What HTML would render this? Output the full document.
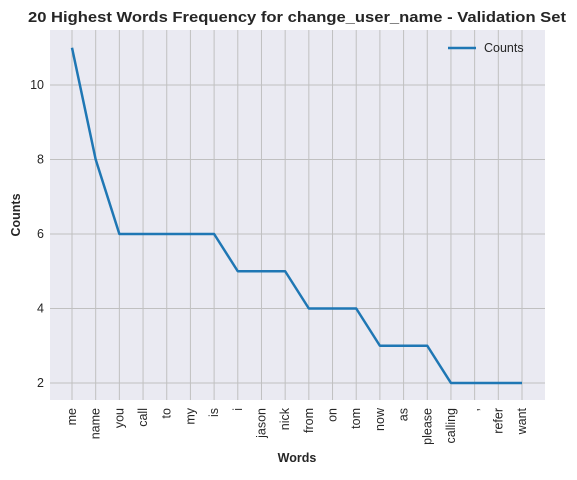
<!DOCTYPE html>
<html><head><meta charset="utf-8"><style>
body{margin:0;background:#fff;font-family:"Liberation Sans",Arial,sans-serif}
svg text{font-family:"Liberation Sans",Arial,sans-serif;fill:#262626}
</style></head><body>
<svg id="c" width="577" height="475"></svg>
<script>
const categories=["me","name","you","call","to","my","is","i","jason","nick","from","on","tom","now","as","please","calling",",","refer","want"];
const counts=[11,8,6,6,6,6,6,5,5,5,4,4,4,3,3,3,2,2,2,2];
const yTicks=[2,4,6,8,10];
const L=50,R=545,T=30,B=400;
const x=i=>72+i*(522-72)/(categories.length-1);
const y=v=>383-(v-2)*(383-85)/8;
const svg=document.getElementById('c');
const NS='http://www.w3.org/2000/svg';
function el(t,a,p){const e=document.createElementNS(NS,t);for(const k in a)e.setAttribute(k,a[k]);(p||svg).appendChild(e);return e;}
const bg=el('rect',{x:L,y:T,width:R-L,height:B-T,fill:'#eaeaf2'});


categories.forEach((c,i)=>{
 const g=el('line',{x1:x(i),x2:x(i),y1:T,y2:B,stroke:'#c0c0c0','stroke-width':1});
 
 
 const t=el('text',{x:0,y:0,'font-size':12.5,'text-anchor':'end',transform:`translate(${x(i)+4},${B+8}) rotate(-90)`});
 t.textContent=c;
 
 
});
yTicks.forEach(v=>{
 const g=el('line',{x1:L,x2:R,y1:y(v),y2:y(v),stroke:'#c0c0c0','stroke-width':1});
 
 
 const t=el('text',{x:L-6,y:y(v)+4,'font-size':12.5,'text-anchor':'end'});
 t.textContent=v;
 
 
});
const line=el('polyline',{points:counts.map((v,i)=>x(i)+','+y(v)).join(' '),fill:'none',stroke:'#1f77b4','stroke-width':2.5,'stroke-linejoin':'round'});


const title=el('text',{x:28,y:22,'font-size':15,'font-weight':'bold',textLength:538,lengthAdjust:'spacingAndGlyphs'});
title.textContent='20 Highest Words Frequency for change_user_name - Validation Set';


const xt=el('text',{x:297,y:462,'font-size':12.5,'font-weight':'bold','text-anchor':'middle'});
xt.textContent='Words';


const yt=el('text',{x:0,y:0,'font-size':12.5,'font-weight':'bold','text-anchor':'middle',transform:'translate(20,215) rotate(-90)'});
yt.textContent='Counts';


const lg=el('g',{});


el('line',{x1:448,x2:476,y1:48,y2:48,stroke:'#1f77b4','stroke-width':2.5},lg);
const lt=el('text',{x:484,y:52,'font-size':12.5},lg);
lt.textContent='Counts';
</script>
</body></html>
